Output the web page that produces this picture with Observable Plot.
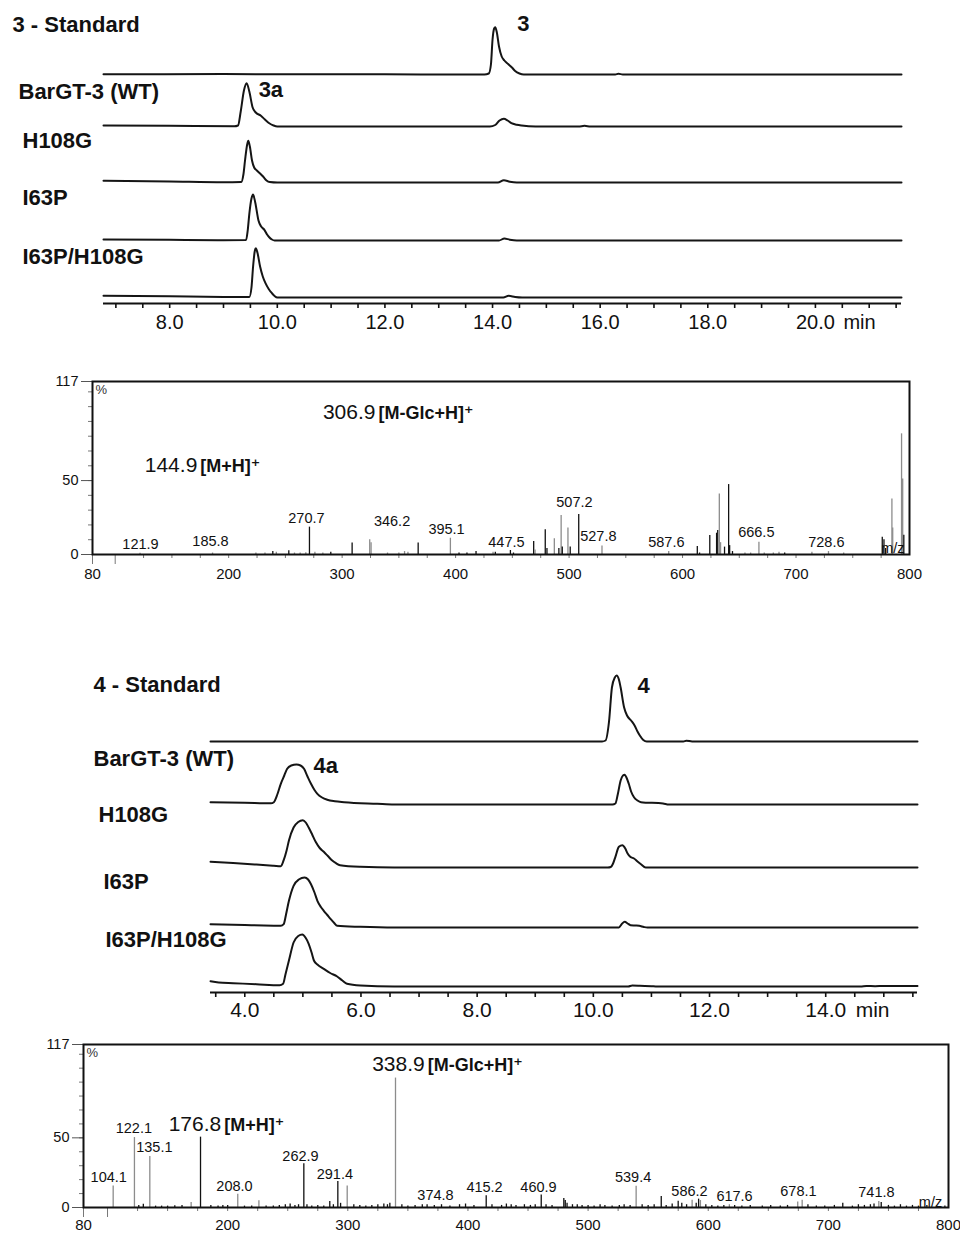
<!DOCTYPE html>
<html><head><meta charset="utf-8">
<script src="https://cdn.jsdelivr.net/npm/d3@7"></script>
<script src="https://cdn.jsdelivr.net/npm/@observablehq/plot@0.6"></script>
<style>
body{margin:0;background:#fff;}
#root{position:relative;width:960px;height:1234px;overflow:hidden;font-family:"Liberation Sans",Arial,"DejaVu Sans",sans-serif;}
#root svg{position:absolute;left:0;overflow:visible;}
</style></head><body><div id="root"></div>
<script>
// ---------- DATA ----------
const samplesA = ["3 - Standard","BarGT-3 (WT)","H108G","I63P","I63P/H108G"];
const samplesB = ["4 - Standard","BarGT-3 (WT)","H108G","I63P","I63P/H108G"];

// chromatogram A (compound 3): [time (min), signal]
const a_std = [[6.77,0.3],[9,0.4],[12,0.2],[13.85,0],[13.93,1],[13.97,10],[14.0,35],[14.03,46],[14.05,47.3],[14.08,42],[14.12,28],[14.17,18],[14.22,14],[14.29,10.5],[14.36,7],[14.42,3.5],[14.5,1],[14.58,0],[15.2,0],[16.28,0],[16.34,0.7],[16.42,0],[21.6,0]];
const a_wt = [[6.77,1],[8,0.7],[9.2,0.2],[9.27,1],[9.32,15],[9.38,36],[9.43,43.3],[9.48,35],[9.54,19.3],[9.6,14],[9.69,11],[9.77,7],[9.85,3.3],[9.93,1],[10.0,0],[13.95,0],[14.05,1.5],[14.13,6],[14.21,7.7],[14.28,6],[14.35,3.3],[14.45,1.8],[14.54,1],[14.8,0],[15.6,0],[15.71,0.7],[15.82,0],[21.6,0]];
const a_h108g = [[6.77,1.7],[8,1],[9.0,0.3],[9.33,0.5],[9.37,8],[9.4,22],[9.44,38],[9.46,41.7],[9.49,36],[9.53,22],[9.57,15],[9.62,12],[9.68,9],[9.74,5.7],[9.8,2],[9.86,0.5],[10,0],[14.1,0],[14.21,2.3],[14.32,0.8],[14.45,0],[21.6,0]];
const a_i63p = [[6.77,1],[8,0.7],[9.0,0.3],[9.42,0.5],[9.45,10],[9.48,26.7],[9.52,42],[9.55,46],[9.59,38],[9.65,20],[9.7,14],[9.76,10.7],[9.81,6],[9.85,3.3],[9.9,1],[9.95,0],[14.12,0],[14.22,2],[14.32,0.8],[14.45,0],[21.6,0]];
const a_dbl = [[6.77,1.7],[8,1.2],[9.0,0.6],[9.48,0.5],[9.52,10],[9.55,31],[9.58,46],[9.6,49.3],[9.63,45],[9.68,31],[9.73,21],[9.78,14.3],[9.84,8.5],[9.9,4.3],[9.95,1.5],[10.0,0],[14.2,0],[14.3,1.7],[14.42,0.5],[14.55,0],[21.6,0]];

// chromatogram B (compound 4)
const b_std = [[3.41,0],[10.15,0],[10.21,1],[10.27,20],[10.32,54],[10.37,64],[10.4,66],[10.44,62],[10.47,54],[10.53,34],[10.58,26],[10.65,21],[10.71,16],[10.76,10],[10.8,6],[10.86,1.5],[10.92,0],[11.55,0],[11.6,0.8],[11.7,0],[15.58,0]];
const b_wt = [[3.41,2.3],[4.0,1.8],[4.45,1.2],[4.5,2.3],[4.56,10],[4.62,20.7],[4.68,29],[4.73,35.7],[4.8,39],[4.89,40],[4.96,39],[5.02,35.7],[5.08,28],[5.14,20.7],[5.2,14.5],[5.25,10.7],[5.33,7],[5.42,4.7],[5.55,3.2],[5.71,2.3],[6.28,0.7],[6.57,0],[10.33,0],[10.38,1],[10.42,10],[10.47,24],[10.51,29],[10.54,29.7],[10.57,27],[10.61,20.7],[10.65,13],[10.7,7.3],[10.76,4],[10.82,2.3],[11.2,1],[11.3,0],[15.58,0]];
const b_h108g = [[3.41,5.7],[3.8,4.5],[4.2,3],[4.5,1.8],[4.62,1.3],[4.67,7.3],[4.72,17],[4.76,27],[4.84,40],[4.92,45.5],[5.0,47.3],[5.05,45],[5.1,40],[5.16,33],[5.22,25.7],[5.29,19.5],[5.36,15.7],[5.43,11.5],[5.5,7.3],[5.57,4.3],[5.64,2.3],[5.99,0.7],[6.57,0],[10.25,0],[10.3,0.5],[10.34,4],[10.38,10.7],[10.44,20.7],[10.5,22.3],[10.55,19],[10.59,14],[10.64,10.5],[10.7,9],[10.76,6],[10.82,3.3],[10.9,0],[15.58,0]];
const b_i63p = [[3.41,3.3],[4.0,2.5],[4.5,1.8],[4.62,1.7],[4.67,3.3],[4.71,13],[4.76,26.7],[4.84,41.7],[4.93,48],[5.03,50],[5.09,48],[5.14,43.3],[5.2,35],[5.25,26.7],[5.31,20.5],[5.36,16.7],[5.42,12.5],[5.48,8.3],[5.54,4.5],[5.59,1.7],[5.99,0.7],[6.57,0],[10.44,0],[10.49,3.5],[10.54,5.7],[10.59,4],[10.64,2.3],[10.72,2],[10.79,1.7],[10.87,0.5],[10.93,0],[15.58,0]];
const b_dbl = [[3.41,5.3],[3.55,4],[3.8,3.3],[4.2,2.3],[4.6,1.2],[4.66,2.7],[4.7,12],[4.76,26],[4.84,44],[4.92,50.5],[4.99,52],[5.05,48.5],[5.1,42.7],[5.15,34],[5.19,26],[5.25,22],[5.36,17.7],[5.47,13.5],[5.59,10],[5.68,6],[5.76,2.7],[5.99,1],[6.57,0],[10.6,0],[10.67,1],[10.8,0.8],[11.0,0.3],[11.1,0],[14.6,0],[14.7,0.6],[14.85,0.3],[15.0,0.6],[15.58,0.5]];

const peakNamesA = [{sample:0, text:"3", t:14.05, v:47.3}, {sample:1, text:"3a", t:9.43, v:43.3}];
const peakNamesB = [{sample:0, text:"4", t:10.4, v:66}, {sample:1, text:"4a", t:4.89, v:40}];

// mass spectrum A: [m/z, intensity %, k=black g=grey]
const msA_peaks = [[121.9,0.8,"g"],[185.8,1,"g"],[224,1,"g"],[232,1,"g"],[238.9,2,"k"],[242,1.5,"g"],[253,2.5,"k"],[258,1,"g"],[263,1,"g"],[268,1.2,"g"],[271.2,18.5,"k"],[276,1.5,"g"],[283,1,"g"],[290,1.5,"k"],[308.8,7.7,"k"],[324.3,9.9,"g"],[325.5,8,"g"],[340,1,"g"],[350,1,"g"],[355,2,"g"],[358,1.5,"g"],[367,7.7,"k"],[395.4,11,"g"],[403,1,"k"],[410,1,"k"],[418,2,"k"],[433,1.5,"g"],[435,1.5,"k"],[448.3,2.7,"k"],[451,1,"k"],[468.8,8.8,"k"],[470,3,"g"],[479,16.7,"k"],[480.5,4,"k"],[487,10.6,"g"],[491,4,"k"],[493,26.4,"g"],[494,5,"k"],[499,18,"g"],[501,5,"k"],[508.5,27,"k"],[529,5.8,"g"],[587.8,2,"g"],[613,5.4,"k"],[615,1,"k"],[624,12.8,"k"],[630,14.4,"k"],[631,16.2,"k"],[632.4,41,"g"],[633.5,8,"g"],[637,5,"k"],[640.6,47.3,"k"],[641.5,6,"k"],[644,2,"k"],[655,1,"g"],[660,1,"g"],[667.3,8.3,"g"],[672,1,"g"],[680,1,"g"],[685,1.5,"g"],[690,1,"k"],[714,1.5,"g"],[728.6,2,"g"],[742,1,"g"],[776,11.7,"k"],[777.5,10,"k"],[779,4,"k"],[784.5,37.6,"g"],[785.2,18,"g"],[793,81.6,"g"],[794,51,"g"],[795,13,"k"]];
const msA_labels = [["121.9",122.3,4],["185.8",184,5.6],["270.7",268.5,21],["346.2",344,19.6],["395.1",392,14],["447.5",444.8,5],["507.2",504.7,32],["527.8",525.8,9],["587.6",585.7,5],["666.5",665,11.7],["728.6",726.7,5],["m/z",785.3,0.9]];
const msA_ions = [["306.9","[M-Glc+H]⁺",330.7,91.7],["144.9","[M+H]⁺",173.7,55.6]];

// mass spectrum B
const msB_peaks = [[104.7,15.5,"g"],[122.4,50.2,"g"],[126,1.5,"k"],[129.8,2.4,"k"],[135.2,36.6,"g"],[140,1,"k"],[145,1,"k"],[150,1,"k"],[156,1.2,"k"],[162,1.5,"k"],[169.6,3.6,"g"],[177.4,50.5,"k"],[186,1.5,"k"],[192,1,"k"],[196,1.5,"k"],[200,1.5,"k"],[208.4,9.5,"g"],[214,1,"k"],[220,1,"k"],[226,4.8,"g"],[232,1,"k"],[238,1,"k"],[243,1.5,"k"],[248,2,"k"],[252,2.5,"k"],[256,1.5,"k"],[259,2,"k"],[263.4,31.4,"k"],[266,2,"k"],[270,1,"k"],[275,1.5,"k"],[280,1,"k"],[285,4.3,"k"],[288,2,"k"],[291.7,18.6,"k"],[294,3,"k"],[299.5,15.5,"g"],[305,2,"k"],[310,1.5,"k"],[315,1,"k"],[320,1.5,"k"],[325,2,"k"],[330,2.5,"k"],[333,2,"k"],[335,3,"k"],[339.7,92.9,"g"],[345,2,"k"],[350,1,"k"],[356,1.5,"k"],[362,2,"k"],[366,2,"k"],[372,1.5,"k"],[378,2,"k"],[385,1,"k"],[393,2,"k"],[398,2.5,"k"],[405,1.5,"k"],[415.2,8.4,"k"],[420,2,"k"],[428,1.5,"k"],[432,2.5,"k"],[436,2,"k"],[440,1.5,"k"],[447,2,"k"],[452,1.5,"k"],[456,2,"k"],[461,9,"k"],[465,2,"k"],[470,1.5,"k"],[479.8,6.4,"k"],[481,5,"k"],[482.5,3,"k"],[487,2,"k"],[491,2,"k"],[495,1.5,"k"],[500,1.5,"k"],[505,1,"k"],[510,2,"k"],[514,1.5,"k"],[520,1,"k"],[526,1.5,"k"],[530,2,"k"],[535,1.5,"k"],[540,15.2,"g"],[545,2,"k"],[550,1.5,"k"],[555,2,"k"],[560.9,7.9,"k"],[565,1.5,"k"],[570,2.5,"k"],[575,4.5,"k"],[578,3,"k"],[582,2,"k"],[586.6,5.2,"g"],[590,3,"k"],[592,6,"k"],[593.5,5,"g"],[598,2,"k"],[603,1.5,"k"],[608,1,"k"],[613,1.5,"k"],[617.6,2,"g"],[622,1.5,"k"],[628,1,"k"],[635,1.5,"k"],[645,1,"k"],[652,1.5,"k"],[660,1,"k"],[666,1.5,"k"],[674.5,4,"g"],[678.2,5.2,"g"],[683,2,"k"],[690,1,"k"],[697,1,"k"],[705,1.5,"k"],[712,3,"k"],[720,1,"k"],[725,2,"k"],[730,1.5,"k"],[735,2,"k"],[738,2.5,"k"],[742,4.3,"g"],[744,3.5,"k"],[750,1.5,"k"],[755,1,"k"],[760,2,"k"],[765,1,"k"],[770,1.5,"k"],[775,1,"k"],[782,1.5,"k"],[790,1,"k"],[797,1,"k"]];
const msB_labels = [["104.1",101,18],["122.1",121.9,53.8],["135.1",139,39.5],["208.0",205.7,12],["262.9",260.6,33.5],["291.4",289.2,20.4],["374.8",373,5.3],["415.2",413.8,10.8],["460.9",458.7,10.8],["539.4",537.5,18],["586.2",584.4,8.4],["617.6",621.9,4.8],["678.1",675.1,8.4],["741.8",740,7.2],["m/z",785,0.5]];
const msB_ions = [["338.9","[M-Glc+H]⁺",365.3,98],["176.8","[M+H]⁺",195.9,55]];

// ---------- LAYOUT ----------
const FONT = "Liberation Sans, Arial, DejaVu Sans, sans-serif";
const root = document.getElementById("root");

function chromatogram(cfg) {
  const {top, height, axisPx, mL, mR, xDomain, samples, traces, offsets, labelX, labelBase, peakNames, peakDx, peakDy, majors, minorFrom, tickFont, tickPad, minDx} = cfg;
  const rows = traces.flatMap((tr, i) => tr.map(([t, v]) => ({sample: samples[i], t, y: offsets[i] + v})));
  const marks = [
    Plot.line(rows, {x: "t", y: "y", z: "sample", curve: "monotone-x", stroke: "#151515", strokeWidth: 2}),
    Plot.ruleY([0], {stroke: "#111", strokeWidth: 2}),
    Plot.axisX({ticks: d3.range(minorFrom, xDomain[1], 0.5), tickSize: 5, strokeWidth: 1.6, tickFormat: () => "", label: null}),
    Plot.axisX({ticks: majors, tickSize: 0, tickPadding: tickPad, tickFormat: d => d.toFixed(1), fontSize: tickFont, label: null}),
    Plot.text(["min"], {x: () => majors[majors.length - 1], frameAnchor: "bottom", dy: tickPad + tickFont * 0.71, lineAnchor: "bottom", textAnchor: "start", dx: minDx, fontSize: tickFont}),
  ];
  samples.forEach((s, i) => {
    marks.push(Plot.text([s], {frameAnchor: "left", y: () => axisPx - labelBase[i], dx: labelX[i] - mL, textAnchor: "start", lineAnchor: "bottom", fontSize: 22, fontWeight: "bold", fill: "#111"}));
  });
  peakNames.forEach((p, j) => {
    marks.push(Plot.text([p], {x: "t", y: d => offsets[d.sample] + d.v, text: "text", dx: peakDx[j], dy: peakDy[j], textAnchor: "start", lineAnchor: "bottom", fontSize: 22, fontWeight: "bold", fill: "#111"}));
  });
  const svg = Plot.plot({
    width: 960, height, marginLeft: mL, marginRight: mR, marginTop: 0, marginBottom: height - axisPx,
    x: {domain: xDomain},
    y: {domain: [0, axisPx], axis: null},
    style: {fontFamily: FONT, background: "transparent", color: "#111"},
    marks
  });
  svg.style.top = top + "px";
  root.appendChild(svg);
}

function spectrum(cfg) {
  const {top, height, mL, mR, mT, mB, peaks, labels, ions, labelFont, xPad} = cfg;
  const pk = peaks.map(([mz, v, c]) => ({mz, v, c}));
  const lb = labels.map(([text, mz, at]) => ({text, mz, at}));
  const io = ions.map(([num, ion, mz, at]) => ({num, ion, mz, at}));
  const svg = Plot.plot({
    width: 960, height, marginLeft: mL, marginRight: mR, marginTop: mT, marginBottom: mB,
    x: {domain: [80, 800]},
    y: {domain: [0, 117]},
    style: {fontFamily: FONT, background: "transparent", color: "#111"},
    marks: [
      Plot.ruleX(pk, {x: "mz", y1: 0, y2: "v", stroke: d => d.c === "k" ? "#111" : "#8c8c8c", strokeWidth: 1.3}),
      Plot.axisX({ticks: d3.range(125, 800, 25), tickSize: 4, stroke: "#777", tickFormat: () => "", label: null}),
      Plot.axisX({ticks: [80, 100], tickSize: 10, stroke: "#777", tickFormat: () => "", label: null}),
      Plot.axisX({ticks: [80, 200, 300, 400, 500, 600, 700, 800], tickSize: 0, tickPadding: xPad, fontSize: 15, label: null}),
      Plot.axisY({ticks: d3.range(10, 117, 10), tickSize: 4, stroke: "#777", tickFormat: () => "", label: null}),
      Plot.axisY({ticks: [0, 50, 117], tickSize: 11, tickPadding: 3, stroke: "#555", fontSize: 14.5, label: null}),
      Plot.frame({stroke: "#111", strokeWidth: 2}),
      Plot.text(["%"], {frameAnchor: "top-left", dx: 3, dy: 3, lineAnchor: "top", textAnchor: "start", fontSize: 13, fill: "#333"}),
      Plot.text(lb, {x: "mz", y: "at", text: "text", lineAnchor: "bottom", fontSize: labelFont, fill: "#111"}),
      Plot.text(io, {x: "mz", y: "at", text: "num", textAnchor: "end", dx: -1.5, lineAnchor: "bottom", fontSize: 21, fill: "#111"}),
      Plot.text(io, {x: "mz", y: "at", text: "ion", textAnchor: "start", dx: 1.5, lineAnchor: "bottom", fontSize: 18, fontWeight: "bold", fill: "#111"})
    ]
  });
  svg.style.top = top + "px";
  root.appendChild(svg);
}

chromatogram({
  top: 0, height: 340, axisPx: 303, mL: 103, mR: 59, xDomain: [6.77, 21.6],
  samples: samplesA, traces: [a_std, a_wt, a_h108g, a_i63p, a_dbl],
  offsets: [229, 177, 121, 63, 6],
  labelX: [12, 18, 22, 22, 22], labelBase: [31.7, 98, 147, 204, 263],
  peakNames: peakNamesA, peakDx: [22, 12], peakDy: [4, 14],
  majors: [8, 10, 12, 14, 16, 18, 20], minorFrom: 7, tickFont: 20, tickPad: 11, minDx: 28
});

spectrum({top: 360, height: 240, mL: 92, mR: 51, mT: 21, mB: 46, peaks: msA_peaks, labels: msA_labels, ions: msA_ions, labelFont: 14.5, xPad: 14});

chromatogram({
  top: 660, height: 370, axisPx: 332, mL: 210, mR: 43, xDomain: [3.41, 15.58],
  samples: samplesB, traces: [b_std, b_wt, b_h108g, b_i63p, b_dbl],
  offsets: [251, 188, 125, 65, 6],
  labelX: [93, 93, 98, 103, 105], labelBase: [31.7, 105, 161.7, 228, 286.7],
  peakNames: peakNamesB, peakDx: [21, 17], peakDy: [17, 8],
  majors: [4, 6, 8, 10, 12, 14], minorFrom: 3.5, tickFont: 21, tickPad: 10, minDx: 30
});

spectrum({top: 1030, height: 204, mL: 83, mR: 12, mT: 14, mB: 27, peaks: msB_peaks, labels: msB_labels, ions: msB_ions, labelFont: 14.5, xPad: 12});
</script>
</body></html>
